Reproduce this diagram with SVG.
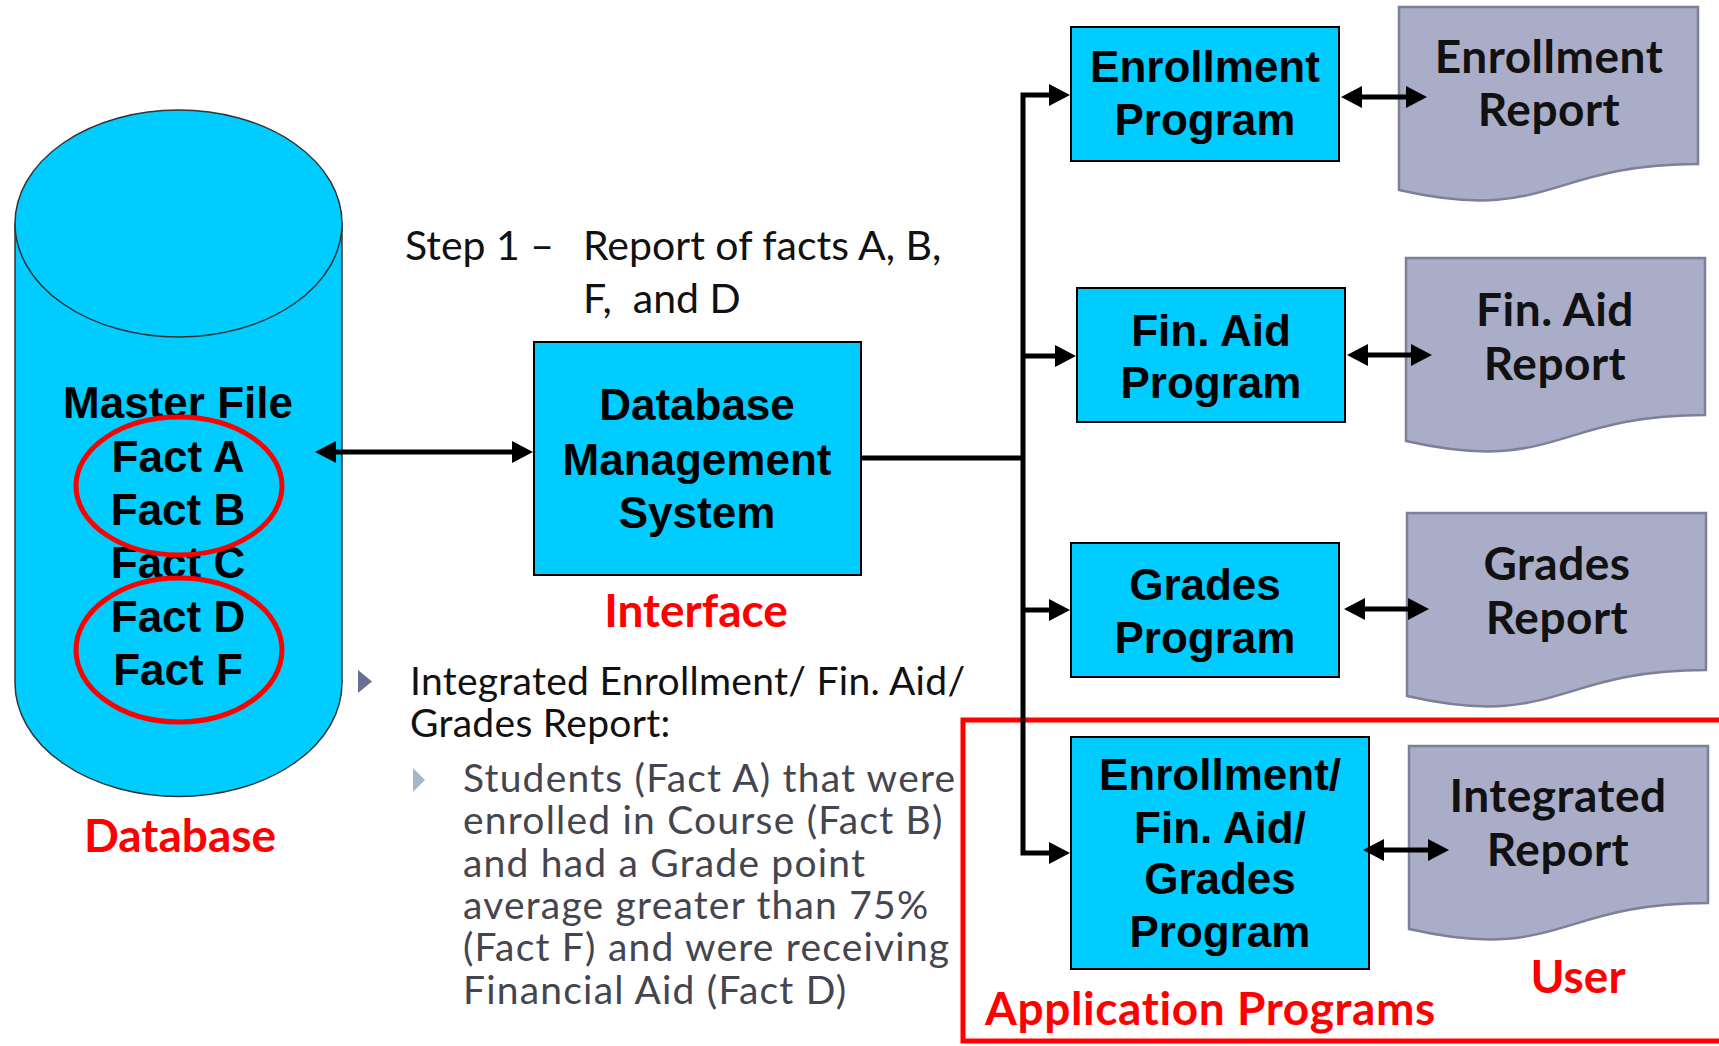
<svg xmlns="http://www.w3.org/2000/svg" width="1719" height="1046" viewBox="0 0 1719 1046">
<defs>
<style>
.bold{font-family:"Liberation Sans",Arial,sans-serif;font-weight:bold;font-size:44px;fill:#000;text-anchor:middle}
.rep{font-family:Lato,"Open Sans",sans-serif;font-weight:bold;font-size:46px;letter-spacing:0.5px;fill:#111;text-anchor:middle}
.redlbl{font-family:Lato,"Open Sans",sans-serif;font-weight:bold;font-size:46px;fill:#ff0000}
.gill{font-family:Lato,"Open Sans",sans-serif;font-size:39px;letter-spacing:0.3px;fill:#111}
.step{font-family:Lato,"Open Sans",sans-serif;font-size:41px;fill:#111}
.gray{font-family:Lato,"Open Sans",sans-serif;font-size:39px;letter-spacing:1.2px;fill:#45454f}
.prog{fill:#00ccff;stroke:#000;stroke-width:2}
.doc{fill:#a9adc8;stroke:#7c8099;stroke-width:2.5}
.conn{fill:none;stroke:#000;stroke-width:5}
.ring{fill:none;stroke:#ff0000;stroke-width:5}
</style>
<marker id="ah" markerUnits="userSpaceOnUse" markerWidth="22" markerHeight="24" viewBox="0 0 22 24" refX="1" refY="12" orient="auto-start-reverse">
<path d="M0,1 L21,12 L0,23 z" fill="#000"/>
</marker>
</defs>
<rect width="1719" height="1046" fill="#fff"/>

<g id="database">
<path d="M15,223.5 V683 A163.5,113.5 0 0 0 342,683 V223.5 Z" fill="#00ccff" stroke="#333" stroke-width="1.5"/>
<ellipse cx="178.5" cy="223.5" rx="163.5" ry="113.5" fill="#00ccff" stroke="#333" stroke-width="1.5"/>
<text class="bold" x="178" y="418">Master File</text>
<text class="bold" x="178" y="472">Fact A</text>
<text class="bold" x="178" y="525">Fact B</text>
<text class="bold" x="178" y="578">Fact C</text>
<text class="bold" x="178" y="632">Fact D</text>
<text class="bold" x="178" y="685">Fact F</text>
<ellipse class="ring" cx="179" cy="486" rx="103" ry="69"/>
<ellipse class="ring" cx="179" cy="650" rx="103" ry="72"/>
<text class="redlbl" x="180" y="852" text-anchor="middle">Database</text>
</g>

<g id="dbms">
<rect class="prog" x="534" y="342" width="327" height="233"/>
<text class="bold" x="697" y="420">Database</text>
<text class="bold" x="697" y="475">Management</text>
<text class="bold" x="697" y="528">System</text>
<text class="redlbl" x="696" y="627" text-anchor="middle">Interface</text>
</g>

<g id="step-note">
<text class="step" x="405" y="260">Step 1 –</text>
<text class="step" x="583" y="260">Report of facts A, B,</text>
<text class="step" x="583" y="313">F,&#160; and D</text>
</g>

<g id="bullets">
<path d="M358,670 L372,681.5 L358,693 z" fill="#6a7090"/>
<text class="gill" x="410" y="695">Integrated Enrollment/ Fin. Aid/</text>
<text class="gill" x="410" y="737">Grades Report:</text>
<path d="M413,768 L425,780 L413,792 z" fill="#a3b6cc"/>
<text class="gray" x="463" y="792">Students (Fact A) that were</text>
<text class="gray" x="463" y="834">enrolled in Course (Fact B)</text>
<text class="gray" x="463" y="877">and had a Grade point</text>
<text class="gray" x="463" y="919">average greater than 75%</text>
<text class="gray" x="463" y="961">(Fact F) and were receiving</text>
<text class="gray" x="463" y="1004">Financial Aid (Fact D)</text>
</g>

<g id="app-programs-frame">
<rect x="963" y="720" width="800" height="321" fill="none" stroke="#ff0000" stroke-width="5"/>
<text class="redlbl" x="985" y="1025" letter-spacing="0.6">Application Programs</text>
<text class="redlbl" x="1578" y="993" text-anchor="middle">User</text>
</g>

<g id="enrollment-program">
<rect class="prog" x="1071" y="27" width="268" height="134"/>
<text class="bold" x="1205" y="82">Enrollment</text>
<text class="bold" x="1205" y="135">Program</text>
</g>
<g id="finaid-program">
<rect class="prog" x="1077" y="288" width="268" height="134"/>
<text class="bold" x="1211" y="346">Fin. Aid</text>
<text class="bold" x="1211" y="398">Program</text>
</g>
<g id="grades-program">
<rect class="prog" x="1071" y="543" width="268" height="134"/>
<text class="bold" x="1205" y="600">Grades</text>
<text class="bold" x="1205" y="653">Program</text>
</g>
<g id="integrated-program">
<rect class="prog" x="1071" y="737" width="298" height="232"/>
<text class="bold" x="1220" y="790">Enrollment/</text>
<text class="bold" x="1220" y="843">Fin. Aid/</text>
<text class="bold" x="1220" y="894">Grades</text>
<text class="bold" x="1220" y="947">Program</text>
</g>

<g id="enrollment-report">
<path class="doc" d="M1399,7 H1698 V164 C1548.5,164 1548.5,224 1399,190 Z"/>
<text class="rep" x="1549" y="73">Enrollment</text>
<text class="rep" x="1549" y="126">Report</text>
</g>
<g id="finaid-report">
<path class="doc" d="M1406,258 H1705 V415 C1555.5,415 1555.5,475 1406,441 Z"/>
<text class="rep" x="1555" y="326">Fin. Aid</text>
<text class="rep" x="1555" y="380">Report</text>
</g>
<g id="grades-report">
<path class="doc" d="M1407,513 H1706 V670 C1556.5,670 1556.5,730 1407,696 Z"/>
<text class="rep" x="1557" y="580">Grades</text>
<text class="rep" x="1557" y="634">Report</text>
</g>
<g id="integrated-report">
<path class="doc" d="M1409,746 H1708 V903 C1558.5,903 1558.5,963 1409,929 Z"/>
<text class="rep" x="1558" y="812">Integrated</text>
<text class="rep" x="1558" y="866">Report</text>
</g>

<g id="connectors">
<line class="conn" x1="335" y1="452" x2="513" y2="452" marker-start="url(#ah)" marker-end="url(#ah)"/>
<path class="conn" d="M861,458 H1023"/>
<path class="conn" d="M1050,95 H1023 V853 H1050" marker-start="url(#ah)" marker-end="url(#ah)"/>
<path class="conn" d="M1023,356 H1056" marker-end="url(#ah)"/>
<path class="conn" d="M1023,610 H1050" marker-end="url(#ah)"/>
<line class="conn" x1="1361" y1="97" x2="1407" y2="97" marker-start="url(#ah)" marker-end="url(#ah)"/>
<line class="conn" x1="1367" y1="355" x2="1412" y2="355" marker-start="url(#ah)" marker-end="url(#ah)"/>
<line class="conn" x1="1364" y1="609" x2="1409" y2="609" marker-start="url(#ah)" marker-end="url(#ah)"/>
<line class="conn" x1="1383" y1="850" x2="1429" y2="850" marker-start="url(#ah)" marker-end="url(#ah)"/>
</g>
</svg>
